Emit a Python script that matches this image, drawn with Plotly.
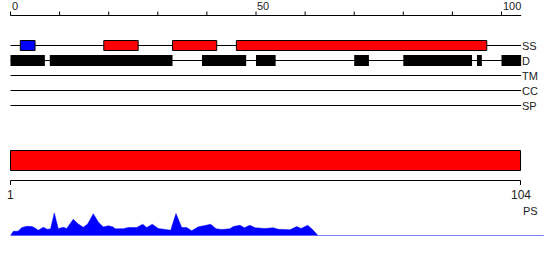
import plotly.graph_objects as go

# ---------------- data ----------------
seq_length = 104
ruler_ticks = [0, 10, 20, 30, 40, 50, 60, 70, 80, 90, 100]
ruler_labels = {0: "0", 50: "50", 100: "100"}

track_names = ["SS", "D", "TM", "CC", "SP"]

ss_start = [2, 19, 33, 46]
ss_end = [5, 26, 42, 97]
ss_kind = ["strand", "helix", "helix", "helix"]

d_start = [0, 8, 39, 50, 70, 80, 95, 100]
d_end = [7, 33, 48, 54, 73, 94, 96, 104]

bottom_start = 1
bottom_end = 104
bottom_label = "PS"

ps_pos = [1.0, 1.57, 2.51, 3.32, 4.33, 5.34, 5.95, 6.61, 7.62, 8.37, 9.08, 9.85,
          10.65, 11.60, 12.35, 13.68, 14.69, 15.70, 16.59, 17.72, 18.73, 19.74,
          20.75, 21.76, 22.10, 23.78, 24.79, 26.49, 27.70, 28.51, 29.64, 30.85,
          33.35, 34.42, 35.58, 36.59, 37.60, 38.93, 40.08, 41.43, 42.50, 43.65,
          45.33, 46.00, 47.35, 48.22, 49.37, 50.38, 52.40, 54.07, 55.08, 56.44,
          57.45, 58.80, 59.67, 61.02, 61.95, 63.10]
ps_val = [0, .17, .17, .32, .37, .36, .30, .21, .33, .25, .26, .90,
          .27, .33, .28, .65, .46, .33, .46, .87, .54, .34,
          .39, .34, .27, .27, .32, .32, .45, .32, .45, .28,
          .21, .88, .32, .32, .19, .35, .39, .45, .27, .24,
          .27, .36, .41, .31, .41, .31, .28, .31, .25, .23,
          .23, .36, .28, .41, .25, 0]
ps_baseline_end = 108.7

# ---------------- style ----------------
W, H = 550, 260
FONT = "Liberation Sans"
kind_color = {"strand": "#0000ff", "helix": "#ff0000"}
row_y = {"SS": 45.5, "D": 60.5, "TM": 75.5, "CC": 90.5, "SP": 105.5}

# top scale: residue 0 -> px 10.5, 4.91 px per residue
k_top = 4.91
x_range = [-10.5 / k_top, (W - 10.5) / k_top]
# bottom scale: residue 1 -> px 10.5, residue 104 -> px 520.5
k_bot = 510.0 / (bottom_end - bottom_start)
x2_range = [bottom_start - 10.5 / k_bot, bottom_start + (W - 10.5) / k_bot]

fig = go.Figure()

# PS profile
fig.add_trace(go.Scatter(x=[ps_pos[0], ps_baseline_end], y=[0, 0], mode="lines",
                         line=dict(color="#0000ff", width=1),
                         xaxis="x2", yaxis="y2", hoverinfo="skip"))
fig.add_trace(go.Scatter(x=ps_pos, y=ps_val, mode="lines", fill="tozeroy",
                         fillcolor="#0000ff", line=dict(color="#0000ff", width=0.5),
                         xaxis="x2", yaxis="y2", hoverinfo="skip"))

shapes = []
annotations = []
# ruler
ruler_y = 15.5
shapes.append(dict(type="line", xref="x", yref="y", x0=0, x1=seq_length,
                   y0=ruler_y, y1=ruler_y, line=dict(color="black", width=1)))
for t in ruler_ticks:
    shapes.append(dict(type="line", xref="x", yref="y", x0=t, x1=t,
                       y0=ruler_y, y1=ruler_y - 4, line=dict(color="black", width=1)))
    if t in ruler_labels:
        annotations.append(dict(x=t, y=5.5, xref="x", yref="y", text=ruler_labels[t],
                                showarrow=False, xanchor="left", yanchor="middle",
                                xshift=-1, font=dict(family=FONT, size=11, color="#222")))

# track lines and labels
for name in track_names:
    y = row_y[name]
    shapes.append(dict(type="line", xref="x", yref="y", x0=0, x1=seq_length,
                       y0=y, y1=y, line=dict(color="black", width=1)))
    annotations.append(dict(x=seq_length, y=y, xref="x", yref="y", text=name,
                            showarrow=False, xanchor="left", yanchor="middle",
                            xshift=-1, font=dict(family=FONT, size=11, color="#222")))

# secondary structure boxes
for s, e, kd in zip(ss_start, ss_end, ss_kind):
    shapes.append(dict(type="rect", xref="x", yref="y", x0=s, x1=e,
                       y0=row_y["SS"] - 5, y1=row_y["SS"] + 5,
                       fillcolor=kind_color[kd], line=dict(color="black", width=1)))
# disorder boxes
for s, e in zip(d_start, d_end):
    shapes.append(dict(type="rect", xref="x", yref="y", x0=s, x1=e,
                       y0=row_y["D"] - 5.5, y1=row_y["D"] + 5.5,
                       fillcolor="black", line=dict(width=0)))

# bottom bar
shapes.append(dict(type="rect", xref="x2", yref="y", x0=bottom_start, x1=bottom_end,
                   y0=150.5, y1=170.5, fillcolor="#ff0000",
                   line=dict(color="black", width=1)))
# bottom axis
shapes.append(dict(type="line", xref="x2", yref="y", x0=bottom_start, x1=bottom_end,
                   y0=180.5, y1=180.5, line=dict(color="black", width=1)))
for t in (bottom_start, bottom_end):
    shapes.append(dict(type="line", xref="x2", yref="y", x0=t, x1=t,
                       y0=180.5, y1=185, line=dict(color="black", width=1)))
    annotations.append(dict(x=t, y=195, xref="x2", yref="y", text=str(t),
                            showarrow=False, xanchor="center", yanchor="middle",
                            font=dict(family=FONT, size=12, color="#222")))
annotations.append(dict(x=bottom_end, y=211, xref="x2", yref="y", text=bottom_label,
                        showarrow=False, xanchor="left", yanchor="middle",
                        font=dict(family=FONT, size=11, color="#222")))

axis_off = dict(visible=False, showgrid=False, zeroline=False, fixedrange=True)
fig.update_layout(
    width=W, height=H, margin=dict(l=0, r=0, t=0, b=0),
    paper_bgcolor="white", plot_bgcolor="white", showlegend=False,
    xaxis=dict(range=x_range, domain=[0, 1], anchor="y", **axis_off),
    yaxis=dict(range=[H, 0], domain=[0, 1], anchor="x", **axis_off),
    xaxis2=dict(range=x2_range, domain=[0, 1], anchor="y2", **axis_off),
    yaxis2=dict(range=[0, 1], domain=[(H - 235.5) / H, (H - 210.5) / H],
                anchor="x2", **axis_off),
    shapes=shapes, annotations=annotations,
)

fig.write_html("out.html")
